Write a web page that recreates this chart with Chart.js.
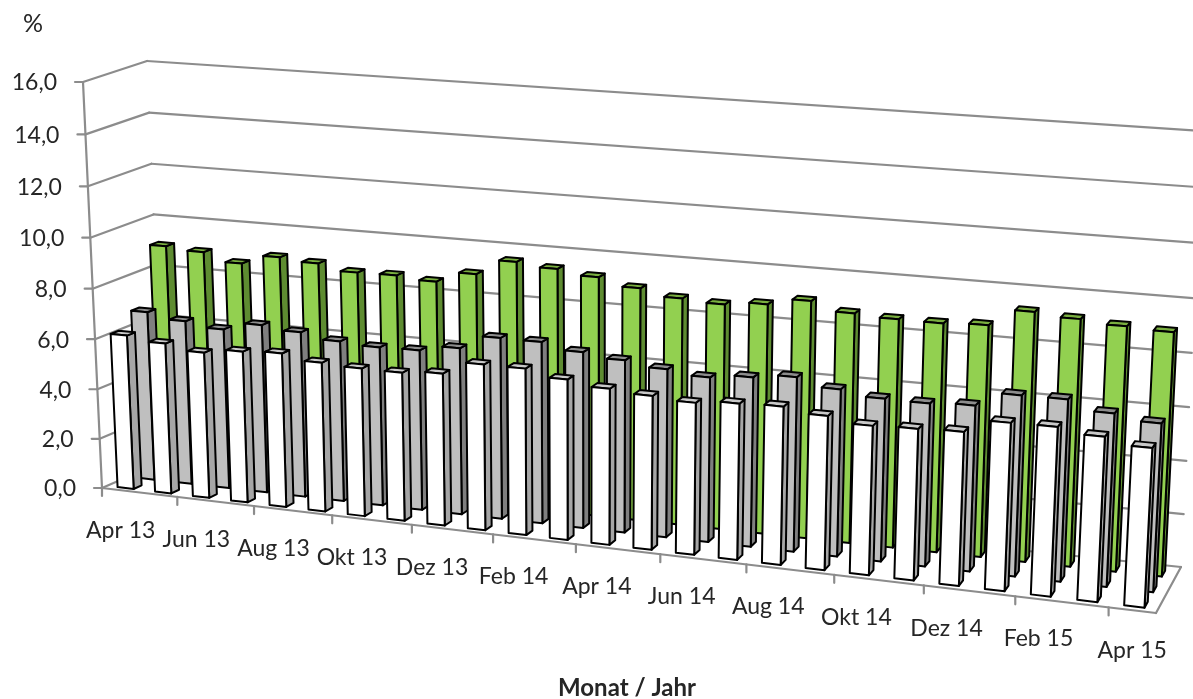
<!DOCTYPE html>
<html>
<head>
<meta charset="utf-8">
<title>Monat / Jahr</title>
<script src="https://cdn.jsdelivr.net/npm/chart.js@4"></script>
<style>
    html, body { margin: 0; padding: 0; background: #fff; overflow: hidden; }
    canvas { display: block; }
</style>
</head>
<body>
<canvas id="chart" width="1193" height="699"></canvas>
<script>
const months = ['Apr 13', 'Mai 13', 'Jun 13', 'Jul 13', 'Aug 13', 'Sep 13', 'Okt 13', 'Nov 13', 'Dez 13',
    'Jan 14', 'Feb 14', 'Mrz 14', 'Apr 14', 'Mai 14', 'Jun 14', 'Jul 14', 'Aug 14', 'Sep 14', 'Okt 14', 'Nov 14', 'Dez 14',
    'Jan 15', 'Feb 15', 'Mrz 15', 'Apr 15']

const whiteValues = [6.17, 6.00, 5.79, 5.98, 6.06, 5.85, 5.78, 5.77, 5.89, 6.39, 6.39, 6.13, 5.94,
    5.83, 5.73, 5.86, 5.91, 5.73, 5.53, 5.58, 5.64, 6.13, 6.15, 5.96, 5.73]
const greyValues = [6.76, 6.54, 6.36, 6.67, 6.53, 6.32, 6.23, 6.26, 6.49, 7.03, 7.02, 6.78, 6.62,
    6.43, 6.27, 6.43, 6.59, 6.29, 6.10, 6.08, 6.16, 6.69, 6.70, 6.35, 6.15]
const greenValues = [9.05, 8.94, 8.62, 8.99, 8.88, 8.65, 8.67, 8.56, 8.98, 9.58, 9.44, 9.26, 8.97,
    8.72, 8.63, 8.77, 9.03, 8.71, 8.63, 8.62, 8.69, 9.32, 9.20, 9.08, 9.01]

const yTitle = '%'
const xTitle = 'Monat / Jahr'

// corners of the 3d box on screen
const frontBottomLeft = [102, 488]
const frontBottomRight = [1156, 613]
const backBottomLeft = [164, 461]
const backBottomRight = [1181, 567]
const frontTopLeft = [83, 82]
const frontTopRight = [1179, 154]
const backTopLeft = [147, 61]
const backTopRight = [1203, 131]

const widthPerspective = 1.13
const heightPerspective = 1.037
const barDepth = 0.13

const lerp = (a, b, t) => [a[0] + (b[0] - a[0]) * t, a[1] + (b[1] - a[1]) * t]
const warp = (t, k) => t / (t + k * (1 - t))

function project(t, z, v) {
    const w = warp(t, widthPerspective)
    const h = warp(v, heightPerspective)
    const bottom = lerp(lerp(frontBottomLeft, frontBottomRight, w), lerp(backBottomLeft, backBottomRight, w), z)
    const top = lerp(lerp(frontTopLeft, frontTopRight, w), lerp(backTopLeft, backTopRight, w), z)
    return lerp(bottom, top, h)
}

function poly(ctx, points, fill) {
    ctx.beginPath()
    points.forEach((p, i) => i ? ctx.lineTo(p[0], p[1]) : ctx.moveTo(p[0], p[1]))
    ctx.closePath()
    ctx.fillStyle = fill
    ctx.fill()
    ctx.stroke()
}

function line(ctx, a, b) {
    ctx.beginPath()
    ctx.moveTo(a[0], a[1])
    ctx.lineTo(b[0], b[1])
    ctx.stroke()
}

const box3d = {
    id: 'box3d',
    beforeDatasetsDraw(chart) {
        const ctx = chart.ctx
        const area = chart.chartArea
        const yScale = chart.scales.y
        const xScale = chart.scales.x
        const toT = px => (px - area.left) / (area.right - area.left)
        const toV = py => (area.bottom - py) / (area.bottom - area.top)

        ctx.save()
        ctx.lineJoin = 'round'
        ctx.lineCap = 'round'

        // walls, floor and axes
        ctx.strokeStyle = '#8c8c8c'
        ctx.lineWidth = 2.2
        ctx.fillStyle = '#262626'
        ctx.font = '23px Lato'
        ctx.textAlign = 'right'
        ctx.textBaseline = 'middle'
        for (const tick of yScale.ticks) {
            const v = toV(yScale.getPixelForValue(tick.value))
            const front = project(0, 0, v)
            const back = project(0, 1, v)
            line(ctx, front, back)
            line(ctx, back, project(1, 1, v))
            line(ctx, front, [front[0] - 8, front[1]])
            ctx.fillText(tick.label, front[0] - 26, front[1] + 1)
        }
        line(ctx, project(0, 0, 0), project(0, 0, 1))
        line(ctx, project(0, 0, 0), project(1, 0, 0))
        line(ctx, project(1, 0, 0), project(1, 1, 0))

        ctx.textAlign = 'center'
        months.forEach((label, i) => {
            const t = toT(xScale.getPixelForValue(i))
            if (i % 2 === 0) {
                const edge = project(i / months.length, 0, 0)
                line(ctx, edge, [edge[0], edge[1] + 8])
                const p = project(t, 0, 0)
                ctx.fillText(label, p[0], p[1] + 40)
            }
        })

        // bars, back row first
        ctx.strokeStyle = '#000'
        ctx.lineWidth = 2
        for (let d = chart.data.datasets.length - 1; d >= 0; d--) {
            const dataset = chart.data.datasets[d]
            const z = dataset.depth
            for (const bar of chart.getDatasetMeta(d).data) {
                const t0 = toT(bar.x - bar.width / 2)
                const t1 = toT(bar.x + bar.width / 2)
                const v0 = toV(bar.base)
                const v1 = toV(bar.y)
                const z1 = z + barDepth
                poly(ctx, [project(t1, z, v0), project(t1, z1, v0), project(t1, z1, v1), project(t1, z, v1)], dataset.sideColor)
                poly(ctx, [project(t0, z, v1), project(t1, z, v1), project(t1, z1, v1), project(t0, z1, v1)], dataset.topColor)
                poly(ctx, [project(t0, z, v0), project(t1, z, v0), project(t1, z, v1), project(t0, z, v1)], dataset.backgroundColor)
            }
        }

        // axis titles
        ctx.fillStyle = '#262626'
        ctx.font = '25px Lato'
        ctx.fillText(yTitle, 33, 24)
        ctx.font = 'bold 24px Lato'
        ctx.fillText(xTitle, 627, 688)
        ctx.restore()
        return false
    }
}

new Chart(document.getElementById('chart'), {
    type: 'bar',
    data: {
        labels: months,
        datasets: [
            { data: whiteValues, backgroundColor: '#ffffff', sideColor: '#a6a6a6', topColor: '#c8c8c8', depth: 0.08 },
            { data: greyValues, backgroundColor: '#bfbfbf', sideColor: '#7f7f7f', topColor: '#8c8c8c', depth: 0.42 },
            { data: greenValues, backgroundColor: '#92d050', sideColor: '#5e8c31', topColor: '#79ae3f', depth: 0.76 }
        ]
    },
    options: {
        responsive: false,
        animation: false,
        layout: { padding: 0 },
        categoryPercentage: 1,
        barPercentage: 0.43,
        plugins: { legend: { display: false }, tooltip: { enabled: false } },
        scales: {
            x: { stacked: true, display: false },
            y: {
                display: false,
                min: 0,
                max: 16,
                ticks: { stepSize: 2, callback: value => value.toFixed(1).replace('.', ',') }
            }
        }
    },
    plugins: [box3d]
})
</script>
</body>
</html>
